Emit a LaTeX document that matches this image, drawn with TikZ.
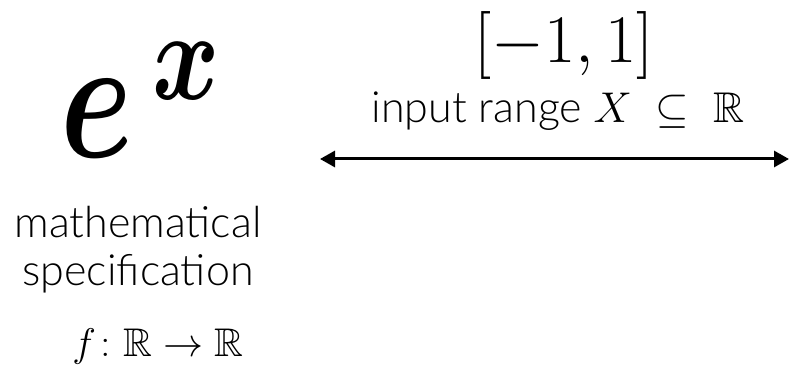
\RequirePackage{fix-cm}
\documentclass[tikz,border=0pt]{standalone}
\usepackage{amsmath,amssymb}
\usepackage{fontspec}
\setmainfont{Lato}[UprightFont={* Light}]
\usetikzlibrary{arrows.meta}

\begin{document}
\begin{tikzpicture}[x=1pt,y=-1pt,
    txt/.style={inner sep=0pt,align=center,font=\fontsize{43}{48}\selectfont},
    rng/.style={inner sep=0pt,font=\fontsize{68}{70}\selectfont},
    >={Triangle[length=15pt,width=16pt]}]
  \useasboundingbox (0,0) rectangle (789,371);
  \node[inner sep=0pt,anchor=base west] (expo) at (60,158)
    {{\fontsize{175}{175}\selectfont\scalebox{0.75}[1]{$\boldsymbol{e}$}}\hspace{20pt}%
     \raisebox{58pt}{\fontsize{128}{128}\selectfont\scalebox{0.8}[1]{$\boldsymbol{x}$}}};
  \node[txt,anchor=base] (spec) at (138,285) {mathematical\\specification};
  \node[txt,anchor=base,font=\fontsize{40}{48}\selectfont] (sig) at (158,356)
    {$f\colon\mathbb{R}\to\mathbb{R}$};
  \node[rng,anchor=base] (range) at (564,63) {$[-1,1]$};
  \node[txt,anchor=base] (rlabel) at (558,123) {input range $X\;\subseteq\;\mathbb{R}$};
  %%
  \coordinate (lft) at (320,159);
  \coordinate (rgt) at (789,159);
  \draw[<->,line width=3pt] (lft) -- (rgt);
\end{tikzpicture}
\end{document}
